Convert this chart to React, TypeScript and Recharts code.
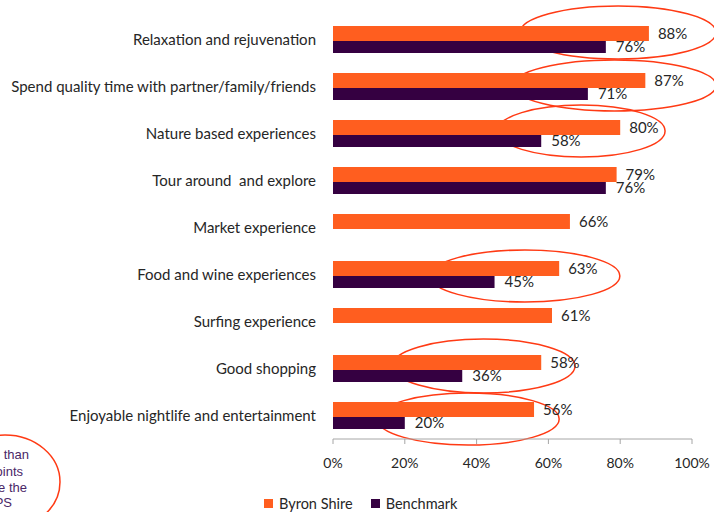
import { BarChart, Bar, XAxis, YAxis, LabelList, Legend, ReferenceArea } from "recharts";

const categories = [
  "Relaxation and rejuvenation",
  "Spend quality time with partner/family/friends",
  "Nature based experiences",
  "Tour around\u00A0 and explore",
  "Market experience",
  "Food and wine experiences",
  "Surfing experience",
  "Good shopping",
  "Enjoyable nightlife and entertainment",
];
const byronShire = [88, 87, 80, 79, 66, 63, 61, 58, 56];
const benchmark: (number | null)[] = [76, 71, 58, 76, null, 45, null, 36, 20];
const xTicks = [0, 20, 40, 60, 80, 100];
const bandEdges = [0, 1, 2, 3, 4, 5, 6, 7, 8, 9];

// hand-drawn highlight ellipses: category, x range in %, vertical nudge and radius in px
const highlights = [
  { cat: categories[0], from: 52.1, to: 106.7, dy: -7, ry: 26.5 },
  { cat: categories[1], from: 50.1, to: 106.7, dy: -1, ry: 25.5 },
  { cat: categories[2], from: 45.7, to: 92.5, dy: -2.5, ry: 26 },
  { cat: categories[5], from: 27.0, to: 79.9, dy: 1.5, ry: 26 },
  { cat: categories[7], from: 16.4, to: 67.4, dy: -2.5, ry: 27 },
  { cat: categories[8], from: 12.3, to: 63.0, dy: 3.5, ry: 26 },
];

const ORANGE = "#FF5E1F";
const PURPLE = "#350041";
const RED = "#FF3A14";
const AXIS = "#A6A6A6";
const TEXT = "#262626";
const FONT = "Lato, 'Open Sans', sans-serif";

const data = categories.map((c, i) => ({ category: c, byron: byronShire[i], bench: benchmark[i] }));

const pct = (v: any) => (v == null ? "" : `${v}%`);

function LegendBox() {
  const item = (color: string, label: string, gap: number) => (
    <span style={{ display: "inline-flex", alignItems: "center", marginRight: gap }}>
      <span style={{ width: 9, height: 9, background: color, display: "inline-block", marginRight: 6 }} />
      <span>{label}</span>
    </span>
  );
  return (
    <div style={{ fontFamily: FONT, fontSize: 14.5, color: TEXT, whiteSpace: "nowrap" }}>
      {item(ORANGE, "Byron Shire", 18)}
      {item(PURPLE, "Benchmark", 0)}
    </div>
  );
}

export default function App() {
  return (
    <div style={{ position: "absolute", left: 0, top: 0, width: 714, height: 512, background: "#fff" }}>
      <BarChart
        width={714}
        height={512}
        layout="vertical"
        data={data}
        margin={{ top: 16, right: 22, bottom: 0, left: 0 }}
        barGap={0}
      >
        <YAxis
          yAxisId="frame"
          type="number"
          domain={[0, 9]}
          ticks={bandEdges}
          width={0}
          tickSize={5}
          tickFormatter={() => ""}
          stroke={AXIS}
          axisLine={{ stroke: AXIS, strokeWidth: 1.5 }}
          tickLine={{ stroke: AXIS }}
        />
        <YAxis
          yAxisId="cat"
          type="category"
          dataKey="category"
          width={333}
          axisLine={false}
          tickLine={false}
          tickSize={0}
          tickMargin={17}
          interval={0}
          tick={{ fill: TEXT, fontSize: 15, fontFamily: FONT }}
        />
        <XAxis
          type="number"
          domain={[0, 100]}
          ticks={xTicks}
          tickFormatter={pct}
          height={73}
          tickSize={5}
          tickMargin={14}
          axisLine={{ stroke: AXIS }}
          tickLine={{ stroke: AXIS }}
          tick={{ fill: TEXT, fontSize: 14, fontFamily: FONT }}
        />
        <Bar yAxisId="cat" dataKey="byron" name="Byron Shire" fill={ORANGE} barSize={15} isAnimationActive={false}>
          <LabelList dataKey="byron" position="right" offset={9} formatter={pct} fill={TEXT} fontSize={15} fontFamily={FONT} />
        </Bar>
        <Bar yAxisId="cat" dataKey="bench" name="Benchmark" fill={PURPLE} barSize={12} isAnimationActive={false}>
          <LabelList dataKey="bench" position="right" offset={10} formatter={pct} fill={TEXT} fontSize={15} fontFamily={FONT} />
        </Bar>
        {highlights.map((h) => (
          <ReferenceArea
            key={h.cat}
            yAxisId="cat"
            y1={h.cat}
            y2={h.cat}
            x1={h.from}
            x2={h.to}
            ifOverflow="visible"
            shape={(p: any) => (
              <ellipse
                cx={p.x + p.width / 2}
                cy={p.y + p.height / 2 + h.dy}
                rx={p.width / 2}
                ry={h.ry}
                fill="none"
                stroke={RED}
                strokeWidth={1.5}
              />
            )}
          />
        ))}
        <Legend
          verticalAlign="middle"
          align="center"
          layout="horizontal"
          wrapperStyle={{ top: 494, left: 264, width: "auto", height: "auto" }}
          content={() => <LegendBox />}
        />
      </BarChart>
      <svg width={714} height={512} style={{ position: "absolute", left: 0, top: 0, pointerEvents: "none" }}>
        <ellipse cx={5} cy={482} rx={55} ry={47} fill="none" stroke={RED} strokeWidth={1.5} />
        <g fill="#4A2767" fontFamily="'Liberation Sans', Arial, sans-serif" fontSize={13} textAnchor="end">
          <text x={29} y={459}>more than</text>
          <text x={23} y={476}>points</text>
          <text x={27} y={492}>are the</text>
          <text x={12} y={507}>NPS</text>
        </g>
      </svg>
    </div>
  );
}
